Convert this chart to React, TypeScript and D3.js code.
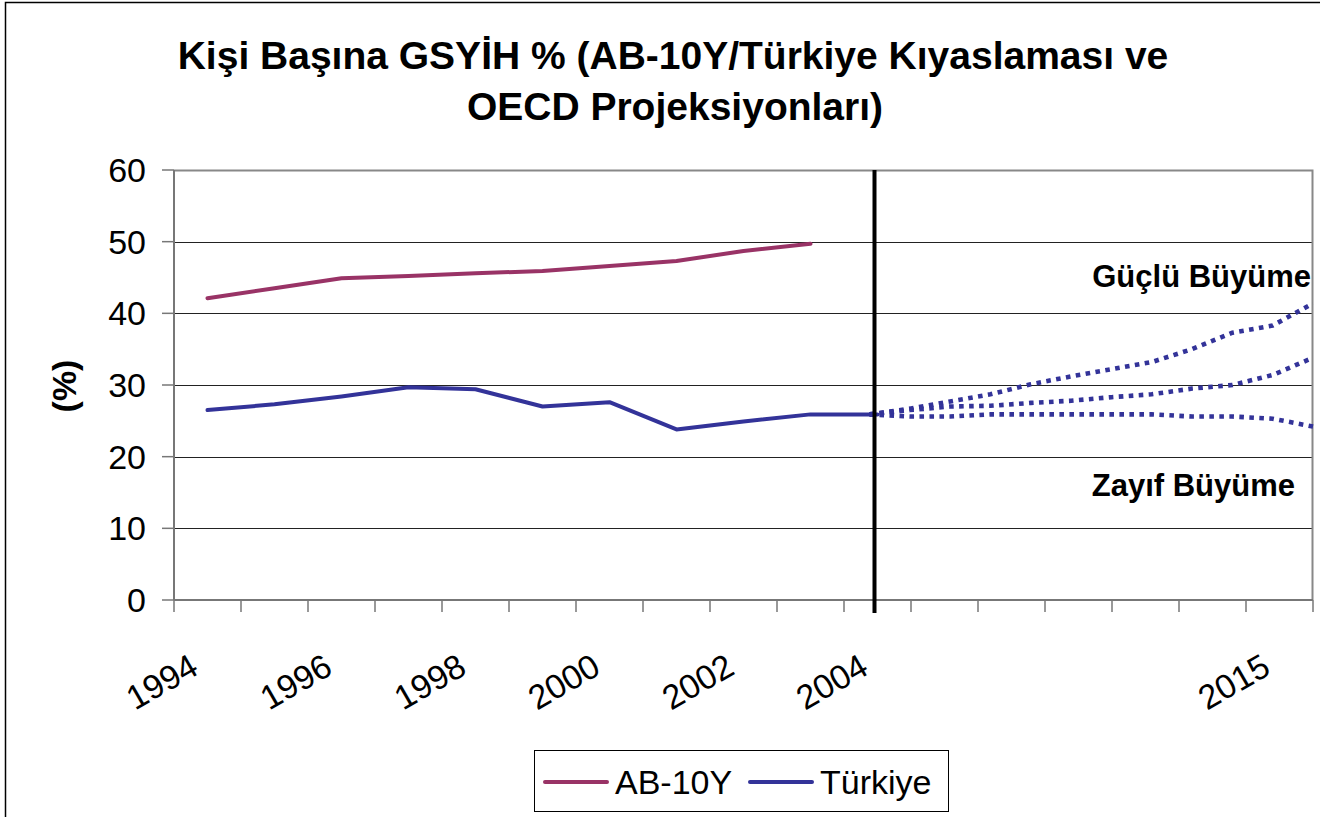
import React, { useEffect } from 'react';
import * as d3 from 'd3';

// category axis: one slot per year, only some slots carry a label
const categoryLabels = [
  '1994', '1995', '1996', '1997', '1998', '1999', '2000', '2001', '2002', '2003',
  '2004', '', '', '', '', '', '2015'
];
const yearsAB = [1994, 1995, 1996, 1997, 1998, 1999, 2000, 2001, 2002, 2003];
const abValues = [42.1, 43.5, 44.9, 45.2, 45.6, 45.9, 46.6, 47.3, 48.7, 49.7];
const yearsTR = [1994, 1995, 1996, 1997, 1998, 1999, 2000, 2001, 2002, 2003, 2004];
const trValues = [26.5, 27.3, 28.4, 29.7, 29.4, 27.0, 27.6, 23.8, 24.9, 25.9, 25.9];

// OECD projections 2004-2015
const projYears = [2004, 2005, 2006, 2007, 2008, 2009, 2010, 2011, 2012, 2013, 2014, 2015];
const projStrong = [25.9, 26.7, 27.7, 28.7, 30.1, 31.2, 32.2, 33.2, 35.0, 37.3, 38.3, 41.4];
const projMid = [25.9, 26.5, 27.0, 27.1, 27.5, 27.8, 28.3, 28.7, 29.5, 30.0, 31.4, 33.8];
const projWeak = [25.9, 25.6, 25.6, 25.9, 25.9, 25.9, 25.9, 25.9, 25.6, 25.6, 25.3, 24.2];

const yTicks = [0, 10, 20, 30, 40, 50, 60];

const W = 1320;
const H = 817;
const margin = { top: 170, right: 7, bottom: 217, left: 174 };
const FONT = 'Arial, "Liberation Sans", Helvetica, sans-serif';
const RED = '#993366';
const BLUE = '#333399';

export default function App() {
  useEffect(() => {
    document.body.style.margin = '0';
    document.body.style.overflow = 'hidden';
  }, []);

  const x0 = margin.left;
  const x1 = W - margin.right;
  const y0 = H - margin.bottom;
  const y1 = margin.top;

  const xBand = d3.scaleBand<number>()
    .domain(d3.range(categoryLabels.length))
    .range([x0, x1])
    .padding(0);
  const bw = xBand.bandwidth();
  const xYear = (yr: number) => (xBand(yr - 1994) as number) + bw / 2;

  const yScale = d3.scaleLinear().domain([0, 60]).range([y0, y1]);

  // projections sit on their own year scale from 2004 to the plot edge
  const xProj = d3.scaleLinear().domain([2004, 2015]).range([xYear(2004) - 8, x1]);

  const lineAB = d3.line<number>()
    .x((d, i) => xYear(yearsAB[i]))
    .y((d) => yScale(d));
  const lineTR = d3.line<number>()
    .x((d, i) => xYear(yearsTR[i]))
    .y((d) => yScale(d));
  const lineProj = d3.line<number>()
    .x((d, i) => xProj(projYears[i]))
    .y((d) => yScale(d));

  const boundaries = d3.range(categoryLabels.length + 1).map((i) => x0 + i * bw);
  const divider = xYear(2004) - 3;

  return (
    <svg width={W} height={H} style={{ position: 'absolute', left: 0, top: 0, background: '#fff' }}
         fontFamily={FONT}>
      <rect x={0} y={0} width={W} height={H} fill="#fff" />
      <path d={`M5.5,${H} V2.5 H${W}`} fill="none" stroke="#000" strokeWidth={1.5} />

      {/* title */}
      <text x={673} y={69} textAnchor="middle" fontSize={39} fontWeight="bold">
        Kişi Başına GSYİH % (AB-10Y/Türkiye Kıyaslaması ve
      </text>
      <text x={675} y={120} textAnchor="middle" fontSize={39} fontWeight="bold">
        OECD Projeksiyonları)
      </text>

      {/* gridlines */}
      {yTicks.filter((t) => t > 0 && t < 60).map((t) => (
        <line key={t} x1={x0} x2={x1} y1={Math.round(yScale(t)) + 0.5} y2={Math.round(yScale(t)) + 0.5}
              stroke="#222" strokeWidth={1} />
      ))}
      {/* plot area border top/right */}
      <path d={`M${x0},${y1 + 0.5} H${x1 - 0.5} V${y0}`} fill="none" stroke="#888" strokeWidth={2} />

      {/* y axis */}
      <line x1={x0} x2={x0} y1={y1} y2={y0} stroke="#777" strokeWidth={2} />
      {yTicks.map((t) => (
        <g key={t}>
          <line x1={x0 - 12} x2={x0} y1={yScale(t)} y2={yScale(t)} stroke="#777" strokeWidth={1.5} />
          <text x={x0 - 28} y={yScale(t) + 12} textAnchor="end" fontSize={34}>{t}</text>
        </g>
      ))}
      <text transform={`translate(76,${(y0 + y1) / 2 + 1}) rotate(-90)`} textAnchor="middle"
            fontSize={34} fontWeight="bold">(%)</text>

      {/* x axis */}
      <line x1={x0} x2={x1} y1={y0} y2={y0} stroke="#777" strokeWidth={2} />
      {boundaries.map((bx, i) => (
        <line key={i} x1={bx} x2={bx} y1={y0} y2={y0 + 12} stroke="#777" strokeWidth={1.5} />
      ))}
      {categoryLabels.map((lab, i) => (i % 2 === 0 && lab ? (
        <text key={i} transform={`translate(${xBand(i)! + bw / 2 - 7},${y0 + 73}) rotate(-30)`}
              textAnchor="end" fontSize={34}>{lab}</text>
      ) : null))}

      {/* series */}
      <path d={lineAB(abValues) || ''} fill="none" stroke={RED} strokeWidth={4} strokeLinecap="round"
            strokeLinejoin="round" />
      <path d={lineTR(trValues) || ''} fill="none" stroke={BLUE} strokeWidth={4} strokeLinecap="round"
            strokeLinejoin="round" />
      {[projStrong, projMid, projWeak].map((vals, i) => (
        <path key={i} d={lineProj(vals) || ''} fill="none" stroke={BLUE} strokeWidth={4.6}
              strokeDasharray="4.6 5.4" strokeLinejoin="miter" />
      ))}

      {/* 2004 divider */}
      <line x1={divider} x2={divider} y1={y1} y2={y0 + 13} stroke="#000" strokeWidth={4} />

      {/* annotations */}
      <text x={1311} y={287} textAnchor="end" fontSize={31} fontWeight="bold">Güçlü Büyüme</text>
      <text x={1295} y={496} textAnchor="end" fontSize={31} fontWeight="bold">Zayıf Büyüme</text>

      {/* legend */}
      <rect x={534.5} y={750.5} width={414} height={61} fill="#fff" stroke="#000" strokeWidth={1} />
      <line x1={545} x2={607} y1={782} y2={782} stroke={RED} strokeWidth={4} strokeLinecap="round" />
      <text x={615} y={794} fontSize={34}>AB-10Y</text>
      <line x1={750} x2={812} y1={782} y2={782} stroke={BLUE} strokeWidth={4} strokeLinecap="round" />
      <text x={820} y={794} fontSize={34}>Türkiye</text>
    </svg>
  );
}
